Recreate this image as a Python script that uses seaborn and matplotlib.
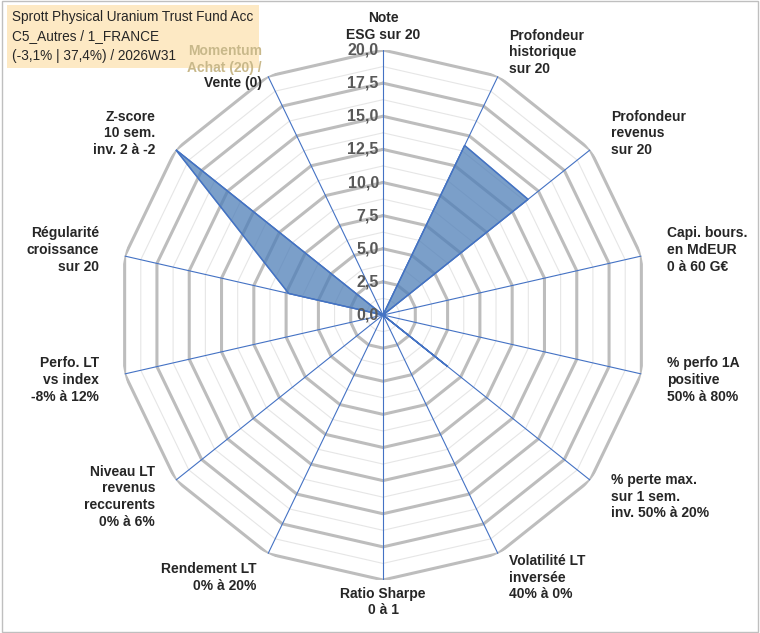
import numpy as np
import pandas as pd
import matplotlib
matplotlib.use("Agg")
import matplotlib.pyplot as plt
import seaborn as sns

categories = ["Note\nESG sur 20", "Profondeur\nhistorique\nsur 20", "Profondeur\nrevenus\nsur 20",
              "Capi. bours.\nen MdEUR\n0 à 60 G€", "% perfo 1A\npositive\n50% à 80%",
              "% perte max.\nsur 1 sem.\ninv. 50% à 20%", "Volatilité LT\ninversée\n40% à 0%",
              "Ratio Sharpe\n0 à 1", "Rendement LT\n0% à 20%", "Niveau LT\nrevenus\nreccurents\n0% à 6%",
              "Perfo. LT\nvs index\n-8% à 12%", "Régularité\ncroissance\nsur 20",
              "Z-score\n10 sem.\ninv. 2 à -2", "Vente (0)"]
values = [0, 14.2, 14.0, 0, 0, 6.2, 0, 0, 0, 0, 0, 7.3, 20, 0]
ticks = [0, 2.5, 5, 7.5, 10, 12.5, 15, 17.5, 20]
title = "Sprott Physical Uranium Trust Fund Acc\nC5_Autres / 1_FRANCE\n(-3,1% | 37,4%) / 2026W31"

sns.set_theme(style="white")
plt.rcParams['font.family'] = ['Liberation Sans', 'DejaVu Sans']

df = pd.DataFrame({"cat": categories, "val": values})
n = len(df)
ang = np.arange(n) * 2 * np.pi / n
angc = np.append(ang, ang[0])

fig = plt.figure(figsize=(7.6, 6.33), dpi=100)
fig.patch.set_facecolor("white")
ax = fig.add_axes([(383 - 265) / 760, 1 - (315 + 265) / 633, 530 / 760, 530 / 633], projection="polar")
ax.set_theta_zero_location("N")
ax.set_theta_direction(-1)
ax.set_ylim(0, 20)
ax.grid(False)
ax.spines["polar"].set_visible(False)
ax.set_xticks([]); ax.set_yticks([])
ax.set_facecolor("none")

for r in np.arange(1.25, 20, 2.5):
    ax.plot(angc, [r] * (n + 1), color="#e6e6e6", lw=0.8, zorder=1)
for r in ticks[1:]:
    ax.plot(angc, [r] * (n + 1), color="#bdbdbd", lw=2.2, zorder=1)
for a in ang:
    ax.plot([a, a], [0, 20], color="#4472c4", lw=0.8, zorder=2)

vals = np.append(df["val"].values, df["val"].values[0])
ax.fill(angc, vals, color="#4f7fb8", alpha=0.75, zorder=3)
ax.plot(angc, vals, color="#4472c4", lw=1, zorder=4)

for t in ticks:
    ax.text(0, t, f"{t:.1f}".replace(".", ","), ha="right", va="center", fontsize=11.5,
            fontweight="bold", color="#595959", zorder=5,
            transform=ax.transData + matplotlib.transforms.ScaledTranslation(-3/72, 0, fig.dpi_scale_trans))

for i, (a, lab) in enumerate(zip(ang, df["cat"])):
    if i == 13:
        continue
    s = np.sin(a)
    r = 22.0
    ha = "center" if abs(s) < 0.2 else ("left" if s > 0 else "right")
    va = "center"
    if i == 0:
        r, va = 20.6, "bottom"
    elif i == 7:
        r, va = 20.5, "top"
    ax.text(a, r, lab, ha=ha, va=va, fontsize=10, fontweight="bold", color="#262626", linespacing=1.25)

fig.text(12 / 760, 1 - 10 / 633, title, ha="left", va="top", fontsize=9.8, color="#262626",
         linespacing=1.5, zorder=6,
         bbox=dict(boxstyle="square,pad=0.4", fc="#fde9c4", ec="none"))
fig.text(262 / 760, 1 - 44 / 633, "Momentum\nAchat (20) /", ha="right", va="top", fontsize=10,
         fontweight="bold", color="#c8b88a", linespacing=1.25, zorder=7)
fig.text(262 / 760, 1 - 76 / 633, df["cat"].iloc[13], ha="right", va="top", fontsize=10,
         fontweight="bold", color="#262626", zorder=7)
fig.add_artist(plt.Rectangle((0.002, 0.002), 0.996, 0.996, transform=fig.transFigure,
                             fill=False, ec="#bfbfbf", lw=1))
fig.savefig("out.png", dpi=100)
